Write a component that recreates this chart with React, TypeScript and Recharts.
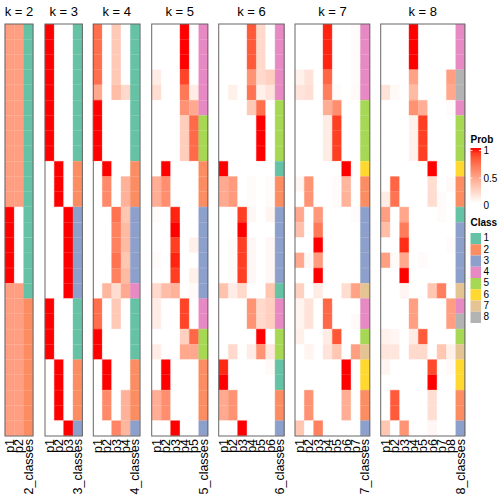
import React from 'react';
import { BarChart, Bar, XAxis, YAxis, Cell } from 'recharts';

// ---------- data ----------
const classColors = ['#66C2A5', '#FC8D62', '#8DA0CB', '#E78AC3', '#A6D854', '#FFD92F', '#E5C494', '#B3B3B3'];
const classLabels = ['1', '2', '3', '4', '5', '6', '7', '8'];
const probTicks = [1, 0.5, 0];
const kValues = [2, 3, 4, 5, 6, 7, 8];

const probsK2 = [
  [0.5, 0.5], [0.5, 0.5], [0.5, 0.5], [0.5, 0.5], [0.5, 0.5], [0.5, 0.5], [0.5, 0.5], [0.5, 0.5], [0.5, 0.5],
  [0.5, 0.5], [0.5, 0.5], [0.5, 0.5], [1, 0], [1, 0], [1, 0], [1, 0], [1, 0], [0.5, 0.5],
  [0.5, 0.5], [0.5, 0.5], [0.5, 0.5], [0.5, 0.5], [0.5, 0.5], [0.5, 0.5], [0.5, 0.5], [0.5, 0.5], [0.5, 0.5],
];
const classesK2 = [1, 1, 1, 1, 1, 1, 1, 1, 1, 1, 1, 1, 1, 1, 1, 1, 1, 1, 2, 2, 2, 2, 2, 2, 2, 2, 2];

const probsK3 = [
  [1, 0, 0], [1, 0, 0], [1, 0, 0], [1, 0, 0], [1, 0, 0], [1, 0, 0], [1, 0, 0], [1, 0, 0], [1, 0, 0],
  [0, 1, 0], [0, 1, 0], [0, 1, 0], [0, 0, 1], [0, 0, 1], [0, 0, 1], [0, 0, 1], [0, 0, 1], [0, 0, 1],
  [1, 0, 0], [1, 0, 0], [1, 0, 0], [1, 0, 0], [0, 1, 0], [0, 1, 0], [0, 1, 0], [0, 1, 0], [0, 0, 1],
];
const classesK3 = [1, 1, 1, 1, 1, 1, 1, 1, 1, 2, 2, 2, 3, 3, 3, 3, 3, 3, 1, 1, 1, 1, 2, 2, 2, 2, 3];

const probsK4 = [
  [0.72, 0, 0.28, 0], [0.72, 0, 0.28, 0], [0.72, 0, 0.28, 0], [0.72, 0, 0.28, 0],
  [0.45, 0, 0.35, 0.2], [1, 0, 0, 0], [1, 0, 0, 0], [1, 0, 0, 0], [1, 0, 0, 0],
  [0, 1, 0, 0], [0, 0.6, 0, 0.4], [0, 0.6, 0, 0.4],
  [0, 0, 0.7, 0.3], [0, 0, 0.64, 0.36], [0, 0, 0.64, 0.36], [0, 0, 0.7, 0.3], [0, 0, 0.64, 0.36],
  [0, 0.38, 0.18, 0.44], [0.72, 0, 0.28, 0], [0.72, 0, 0.28, 0], [1, 0, 0, 0], [1, 0, 0, 0],
  [0, 1, 0, 0], [0, 1, 0, 0], [0, 0.6, 0, 0.4], [0, 0.6, 0, 0.4], [0, 0, 0.62, 0.38],
];
const classesK4 = [1, 1, 1, 1, 1, 1, 1, 1, 1, 2, 2, 2, 3, 3, 3, 3, 3, 4, 1, 1, 1, 1, 2, 2, 2, 2, 3];

const probsK5 = [
  [0, 0, 0, 1, 0], [0, 0, 0, 1, 0], [0, 0, 0, 1, 0], [0.1, 0, 0, 0.88, 0], [0.18, 0, 0, 0.68, 0.1],
  [0, 0, 0, 0.56, 0.44], [0, 0, 0, 0.26, 0.74], [0, 0, 0, 0.26, 0.74], [0, 0, 0, 0.26, 0.74],
  [0, 1, 0, 0, 0], [0.42, 0.58, 0, 0, 0], [0.42, 0.58, 0, 0, 0],
  [0.02, 0, 0.96, 0, 0], [0, 0, 1, 0, 0], [0, 0, 0.9, 0, 0.08], [0.02, 0, 0.96, 0, 0], [0, 0, 0.9, 0, 0.08],
  [0.2, 0.35, 0.4, 0, 0.03], [0.1, 0, 0, 0.88, 0], [0.1, 0, 0, 0.88, 0], [0, 0, 0, 0.25, 0.75],
  [0.1, 0, 0, 0.45, 0.45], [0, 1, 0, 0, 0], [0, 1, 0, 0, 0], [0.42, 0.58, 0, 0, 0], [0.42, 0.58, 0, 0, 0],
  [0, 0, 1, 0, 0],
];
const classesK5 = [4, 4, 4, 4, 4, 4, 5, 5, 5, 2, 2, 2, 3, 3, 3, 3, 3, 3, 4, 4, 5, 5, 2, 2, 2, 2, 3];

const probsK6 = [
  [0, 0, 0, 0.8, 0.2, 0], [0, 0, 0, 0.8, 0.2, 0], [0, 0, 0, 0.8, 0.2, 0], [0, 0, 0, 0.55, 0.2, 0.25],
  [0, 0.08, 0, 0.7, 0.08, 0.14], [0, 0, 0, 0.28, 0.72, 0], [0, 0, 0, 0, 1, 0], [0, 0, 0, 0, 1, 0],
  [0, 0, 0, 0, 1, 0], [1, 0, 0, 0, 0, 0], [0.44, 0.52, 0, 0.02, 0, 0.02], [0.44, 0.52, 0, 0.02, 0, 0.02],
  [0, 0, 0.9, 0.04, 0, 0.06], [0, 0, 1, 0, 0, 0], [0, 0.02, 0.9, 0.04, 0, 0.04], [0, 0.02, 0.9, 0.04, 0, 0.04],
  [0, 0.02, 0.9, 0.04, 0, 0.04], [0.32, 0.1, 0.2, 0, 0, 0.3], [0, 0, 0, 0.55, 0.2, 0.25], [0, 0, 0, 0.55, 0.2, 0.25],
  [0, 0, 0, 0, 1, 0], [0, 0.2, 0, 0.1, 0.55, 0.12], [0.95, 0, 0, 0, 0, 0.03], [1, 0, 0, 0, 0, 0],
  [0.44, 0.56, 0, 0, 0, 0], [0.44, 0.56, 0, 0, 0, 0], [0, 0, 1, 0, 0, 0],
];
const classesK6 = [4, 4, 4, 4, 4, 5, 5, 5, 5, 1, 2, 2, 3, 3, 3, 3, 3, 1, 4, 4, 5, 5, 1, 1, 2, 2, 3];

const probsK7 = [
  [0, 0, 0, 0.96, 0, 0, 0.02], [0, 0, 0, 0.96, 0, 0, 0.02], [0, 0, 0, 0.96, 0, 0, 0.02],
  [0.07, 0.15, 0, 0.76, 0, 0, 0.02], [0.14, 0.17, 0, 0.65, 0.02, 0, 0.03], [0, 0, 0, 0.42, 0.58, 0, 0],
  [0, 0, 0, 0.1, 0.9, 0, 0], [0, 0, 0, 0.1, 0.9, 0, 0], [0, 0, 0, 0.1, 0.9, 0, 0],
  [0, 0, 0, 0, 0, 1, 0], [0.05, 0.55, 0, 0, 0.02, 0.38, 0], [0, 0.55, 0, 0, 0.02, 0.4, 0],
  [0.45, 0, 0.53, 0, 0, 0, 0.02], [0.33, 0, 0.67, 0, 0, 0, 0], [0, 0, 1, 0, 0, 0, 0],
  [0.45, 0.04, 0.51, 0, 0, 0, 0], [0, 0, 1, 0, 0, 0, 0], [0.24, 0, 0.1, 0, 0, 0.18, 0.48],
  [0.06, 0.15, 0, 0.75, 0, 0, 0], [0.06, 0.15, 0, 0.75, 0, 0, 0.03], [0.08, 0, 0, 0.1, 0.82, 0, 0],
  [0, 0.06, 0, 0.14, 0.3, 0, 0.5], [0, 0, 0, 0, 0, 1, 0], [0, 0, 0, 0, 0, 1, 0],
  [0, 0.56, 0, 0, 0, 0.42, 0], [0, 0.56, 0, 0, 0, 0.42, 0], [0.3, 0, 0.64, 0, 0, 0, 0],
];
const classesK7 = [4, 4, 4, 4, 4, 5, 5, 5, 5, 6, 2, 2, 3, 3, 3, 3, 3, 7, 4, 4, 5, 7, 6, 6, 2, 2, 3];

const probsK8 = [
  [0, 0, 0, 1, 0, 0, 0, 0], [0, 0, 0, 1, 0, 0, 0, 0], [0, 0, 0, 1, 0, 0, 0, 0],
  [0, 0, 0, 0.48, 0, 0, 0, 0.5], [0.15, 0.03, 0, 0.36, 0, 0, 0, 0.45], [0, 0, 0, 0.56, 0.42, 0, 0, 0.02],
  [0, 0, 0, 0.07, 0.9, 0, 0, 0], [0, 0, 0, 0.07, 0.9, 0, 0, 0], [0, 0, 0, 0.07, 0.9, 0, 0, 0],
  [0, 0, 0, 0, 0, 1, 0, 0], [0, 0.76, 0, 0, 0, 0.18, 0, 0.03], [0.1, 0.7, 0, 0, 0, 0.18, 0.02, 0],
  [0.5, 0, 0.46, 0, 0, 0, 0.02, 0], [0.35, 0, 0.66, 0, 0, 0, 0, 0], [0, 0, 0.94, 0, 0, 0, 0, 0.02],
  [0.5, 0.03, 0.45, 0, 0.02, 0, 0, 0], [0, 0, 1, 0, 0, 0, 0, 0], [0, 0, 0.05, 0, 0, 0.3, 0.65, 0],
  [0, 0, 0, 0.5, 0, 0, 0, 0.5], [0, 0, 0, 0.5, 0, 0, 0, 0.5], [0.07, 0.05, 0, 0.1, 0.8, 0, 0, 0],
  [0.13, 0.13, 0, 0.2, 0.2, 0, 0.3, 0.08], [0.06, 0, 0, 0, 0, 0.86, 0, 0.03], [0, 0, 0, 0, 0, 1, 0, 0],
  [0, 0.8, 0, 0, 0, 0.17, 0, 0], [0, 0.8, 0, 0, 0, 0.17, 0, 0], [0.3, 0, 0.55, 0, 0, 0.04, 0, 0],
];
const classesK8 = [4, 4, 4, 8, 8, 4, 5, 5, 5, 6, 2, 2, 1, 3, 3, 3, 3, 7, 4, 8, 5, 7, 6, 6, 2, 2, 3];

const panelProbs = [probsK2, probsK3, probsK4, probsK5, probsK6, probsK7, probsK8];
const panelClasses = [classesK2, classesK3, classesK4, classesK5, classesK6, classesK7, classesK8];

// ---------- layout / style ----------
const PANEL_LEFT = [5, 45, 93.3, 151.7, 218.7, 295, 380.7];
const COL_W = 9.35;
const PANEL_TOP = 24;
const PANEL_H = 412;
const AXIS_H = 66;
const PAD_L = 4;
const PAD_R = 8;
const FONT = '"Liberation Sans", Arial, Helvetica, sans-serif';

function labToHex(L: number, a: number, b: number): string {
  const fy = (L + 16) / 116;
  const fx = a / 500 + fy;
  const fz = fy - b / 200;
  const f = (t: number) => (t * t * t > 0.008856 ? t * t * t : (t - 16 / 116) / 7.787);
  const X = 0.95047 * f(fx);
  const Y = 1.0 * f(fy);
  const Z = 1.08883 * f(fz);
  const lin = [
    X * 3.2406 + Y * -1.5372 + Z * -0.4986,
    X * -0.9689 + Y * 1.8758 + Z * 0.0415,
    X * 0.0557 + Y * -0.204 + Z * 1.057,
  ];
  return (
    '#' +
    lin
      .map((c) => {
        const g = c > 0.0031308 ? 1.055 * Math.pow(c, 1 / 2.4) - 0.055 : 12.92 * c;
        const v = Math.max(0, Math.min(255, Math.round(g * 255)));
        return v.toString(16).padStart(2, '0');
      })
      .join('')
  );
}

function probColor(p: number): string {
  return labToHex(100 + (53.24 - 100) * p, 80.09 * p, 67.2 * p);
}

const RotTick = (props: any) => {
  const { x, y, payload, labels } = props;
  const idx = Math.floor(payload.value);
  return (
    <text
      x={x}
      y={y}
      transform={`rotate(-90 ${x} ${y})`}
      textAnchor="end"
      dy="0.35em"
      fontSize={12.5}
      fontFamily={FONT}
      fill="#000"
    >
      {labels[idx]}
    </text>
  );
};

function Panel({ pi }: { pi: number }) {
  const k = kValues[pi];
  const probs = panelProbs[pi];
  const classes = panelClasses[pi];
  const ncols = k + 1;
  const data = probs.map((row, i) => {
    const o: any = { row: i };
    for (let j = 0; j < ncols; j++) o['c' + j] = 1;
    return o;
  });
  const labels = [...Array.from({ length: k }, (_, j) => 'p' + (j + 1)), `${k}_classes`];
  const ticks = labels.map((_, j) => j + 0.5);
  const w = ncols * COL_W;
  return (
    <div
      style={{
        position: 'absolute',
        left: PANEL_LEFT[pi] - PAD_L,
        top: PANEL_TOP,
        width: w + PAD_L + PAD_R,
        height: PANEL_H + AXIS_H,
      }}
    >
      <BarChart
        width={w + PAD_L + PAD_R}
        height={PANEL_H + AXIS_H}
        data={data}
        layout="vertical"
        margin={{ top: 0, right: PAD_R, bottom: 0, left: PAD_L }}
        barCategoryGap={0}
        barGap={0}
      >
        <XAxis
          type="number"
          domain={[0, ncols]}
          ticks={ticks}
          interval={0}
          axisLine={false}
          tickLine={false}
          tickSize={0}
          tickMargin={3}
          height={AXIS_H}
          tick={<RotTick labels={labels} />}
        />
        <YAxis type="category" dataKey="row" hide />
        {labels.map((_, j) => (
          <Bar key={j} dataKey={'c' + j} stackId="s" isAnimationActive={false}>
            {data.map((_, i) => {
              const fill = j < k ? probColor(probs[i][j]) : classColors[classes[i] - 1];
              return <Cell key={i} fill={fill} stroke={fill} strokeWidth={0.4} />;
            })}
          </Bar>
        ))}
      </BarChart>
    </div>
  );
}

export default function App() {
  const gradStops = Array.from({ length: 11 }, (_, i) => i / 10);
  const LX = 470.5;
  const gTop = 148;
  const gBot = 203;
  const gy = (v: number) => gBot - (gBot - gTop) * v;
  return (
    <div style={{ position: 'absolute', left: 0, top: 0, width: 504, height: 504, background: '#fff', overflow: 'hidden' }}>
      {kValues.map((_, pi) => (
        <Panel key={pi} pi={pi} />
      ))}
      <svg width={504} height={504} style={{ position: 'absolute', left: 0, top: 0, pointerEvents: 'none' }}>
        <defs>
          <linearGradient id="probGrad" x1="0" y1="1" x2="0" y2="0">
            {gradStops.map((s) => (
              <stop key={s} offset={s} stopColor={probColor(s)} />
            ))}
          </linearGradient>
        </defs>
        {kValues.map((k, pi) => {
          const w = (k + 1) * COL_W;
          return (
            <g key={k}>
              <rect x={PANEL_LEFT[pi]} y={PANEL_TOP} width={w} height={PANEL_H} fill="none" stroke="#666" strokeWidth={1} />
              <text x={PANEL_LEFT[pi] + w / 2} y={16} textAnchor="middle" fontSize={13} fontFamily={FONT} fill="#000">
                {`k = ${k}`}
              </text>
            </g>
          );
        })}
        {/* Prob legend */}
        <text x={LX} y={143} fontSize={10} fontWeight="bold" fontFamily={FONT}>Prob</text>
        <rect x={LX} y={gTop} width={10.5} height={gBot - gTop} fill="url(#probGrad)" />
        {probTicks.map((t) => (
          <g key={t}>
            {t > 0 && (
              <>
                <line x1={LX} x2={LX + 2} y1={gy(t) + 2.5} y2={gy(t) + 2.5} stroke="#fff" strokeWidth={0.8} />
                <line x1={LX + 8.5} x2={LX + 10.5} y1={gy(t) + 2.5} y2={gy(t) + 2.5} stroke="#fff" strokeWidth={0.8} />
              </>
            )}
            <text x={LX + 13} y={gy(t) + 3.5} fontSize={10} fontFamily={FONT} dominantBaseline="middle">
              {t === 0.5 ? '0.5' : String(t)}
            </text>
          </g>
        ))}
        {/* Class legend */}
        <text x={LX} y={226} fontSize={10} fontWeight="bold" fontFamily={FONT}>Class</text>
        {classLabels.map((lab, i) => (
          <g key={lab}>
            <rect x={LX} y={233 + i * 11.25} width={10.5} height={11.25} fill={classColors[i]} />
            <text x={LX + 13} y={233 + i * 11.25 + 5.8} fontSize={10} fontFamily={FONT} dominantBaseline="middle">
              {lab}
            </text>
          </g>
        ))}
      </svg>
    </div>
  );
}
